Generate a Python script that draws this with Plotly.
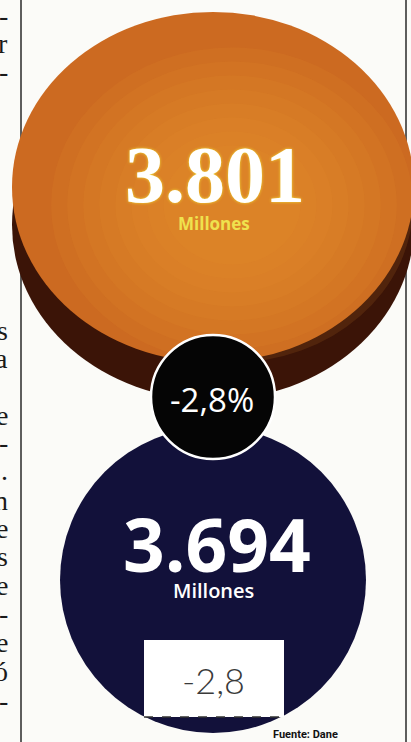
import plotly.graph_objects as go

# ---- data ----
years_values = [3.801, 3.694]          # millones
unit_label = "Millones"
pct_change = -2.8
box_value = -2.8
source_text = "Fuente: Dane"
# clipped letters of the neighbouring newspaper column
side_letters = ["-", "r", "-", "s", "a", "e", "-", ".", "n", "e", "s", "e", "-", "e", "ó", "-"]
side_rows = [15, 43, 71, 330, 358, 415, 442, 470, 500, 528, 556, 585, 613, 642, 671, 700]

def es_num(v, d):
    return f"{v:.{d}f}".replace(".", ",")

W, H = 411, 742
fig = go.Figure()
fig.add_trace(go.Scatter(x=[0, W], y=[0, H], mode="markers",
                         marker=dict(opacity=0), hoverinfo="skip", showlegend=False))

shapes = []
# column rules
for xv in (21, 406):
    shapes.append(dict(type="line", x0=xv, x1=xv, y0=-10, y1=H + 20, xref="x", yref="y",
                       line=dict(color="#2a2a2a", width=1.5), layer="below"))

# orange disk: side (shadow) and top face
cx, cy, rx, ry, depth = 213, 187, 201, 175, 38
shapes.append(dict(type="circle", x0=cx - rx, x1=cx + rx, y0=cy - ry + depth, y1=cy + ry + depth,
                   fillcolor="#3b1407", line=dict(width=0)))
shapes.append(dict(type="circle", x0=cx - rx, x1=cx + rx, y0=cy - ry, y1=cy + ry,
                   fillcolor="#cc6a21", line=dict(width=0)))
# soft lighter centre
gx, gy = 232, 205
steps = [0.9, 0.82, 0.74, 0.66, 0.58, 0.5, 0.42, 0.34]
for f in steps:
    shapes.append(dict(type="circle", x0=gx - rx * f, x1=gx + rx * f, y0=gy - ry * f, y1=gy + ry * f,
                       fillcolor="rgba(232,150,45,0.13)", line=dict(width=0)))

# navy disk
ncx, ncy, nr = 213, 580, 153
shapes.append(dict(type="circle", x0=ncx - nr, x1=ncx + nr, y0=ncy - nr, y1=ncy + nr,
                   fillcolor="#12113a", line=dict(width=0)))

# black change badge
bcx, bcy, br = 213, 397, 62
shapes.append(dict(type="circle", x0=bcx - br, x1=bcx + br, y0=bcy - br, y1=bcy + br,
                   fillcolor="#050505", line=dict(color="#ffffff", width=2.5)))

# white box
shapes.append(dict(type="rect", x0=144, x1=284, y0=640, y1=717,
                   fillcolor="#ffffff", line=dict(width=0)))
shapes.append(dict(type="line", x0=144, x1=286, y0=717, y1=717,
                   line=dict(color="#333333", width=1.5, dash="dash")))

ann = []
ann.append(dict(x=215, y=175, text=f"<b>{years_values[0]:.3f}</b>", showarrow=False,
                font=dict(family="Liberation Serif", size=80, color="#ffffff",
                          shadow="0px 0px 3px #f3e43a"),
                xanchor="center", yanchor="middle"))
ann.append(dict(x=214, y=223, text=f"<b>{unit_label}</b>", showarrow=False,
                font=dict(family="Open Sans", size=17, color="#efe24e"),
                xanchor="center", yanchor="middle"))
ann.append(dict(x=212, y=399, text=es_num(pct_change, 1) + "%", showarrow=False,
                font=dict(family="Open Sans", size=33, color="#ffffff"),
                xanchor="center", yanchor="middle"))
ann.append(dict(x=217, y=543, text=f"<b>{years_values[1]:.3f}</b>", showarrow=False,
                font=dict(family="Open Sans", size=73, color="#ffffff"),
                xanchor="center", yanchor="middle"))
ann.append(dict(x=213, y=590, text=unit_label, showarrow=False,
                font=dict(family="Open Sans", size=20, color="#ffffff", weight=600),
                xanchor="center", yanchor="middle"))
ann.append(dict(x=213, y=680, text=es_num(box_value, 1), showarrow=False,
                font=dict(family="Lato", size=36, color="#3a3a3a", weight=300),
                xanchor="center", yanchor="middle"))
ann.append(dict(x=305, y=734, text=f"<b>{source_text}</b>", showarrow=False,
                font=dict(family="Roboto", size=11, color="#111111"),
                xanchor="center", yanchor="middle"))
for ch, yv in zip(side_letters, side_rows):
    ann.append(dict(x=10, y=yv, text=ch, showarrow=False,
                    font=dict(family="Liberation Serif", size=28, color="#1a1a1a"),
                    xanchor="right", yanchor="middle"))

fig.update_layout(
    width=W, height=H, margin=dict(l=0, r=0, t=0, b=0),
    paper_bgcolor="#fbfbf8", plot_bgcolor="#fbfbf8",
    xaxis=dict(range=[0, W], visible=False, fixedrange=True),
    yaxis=dict(range=[H, 0], visible=False, fixedrange=True),
    shapes=shapes, annotations=ann, showlegend=False,
)
fig.write_html("out.html", config={"displayModeBar": False},
               post_script="document.body.style.margin='0';document.body.style.overflow='hidden';")
